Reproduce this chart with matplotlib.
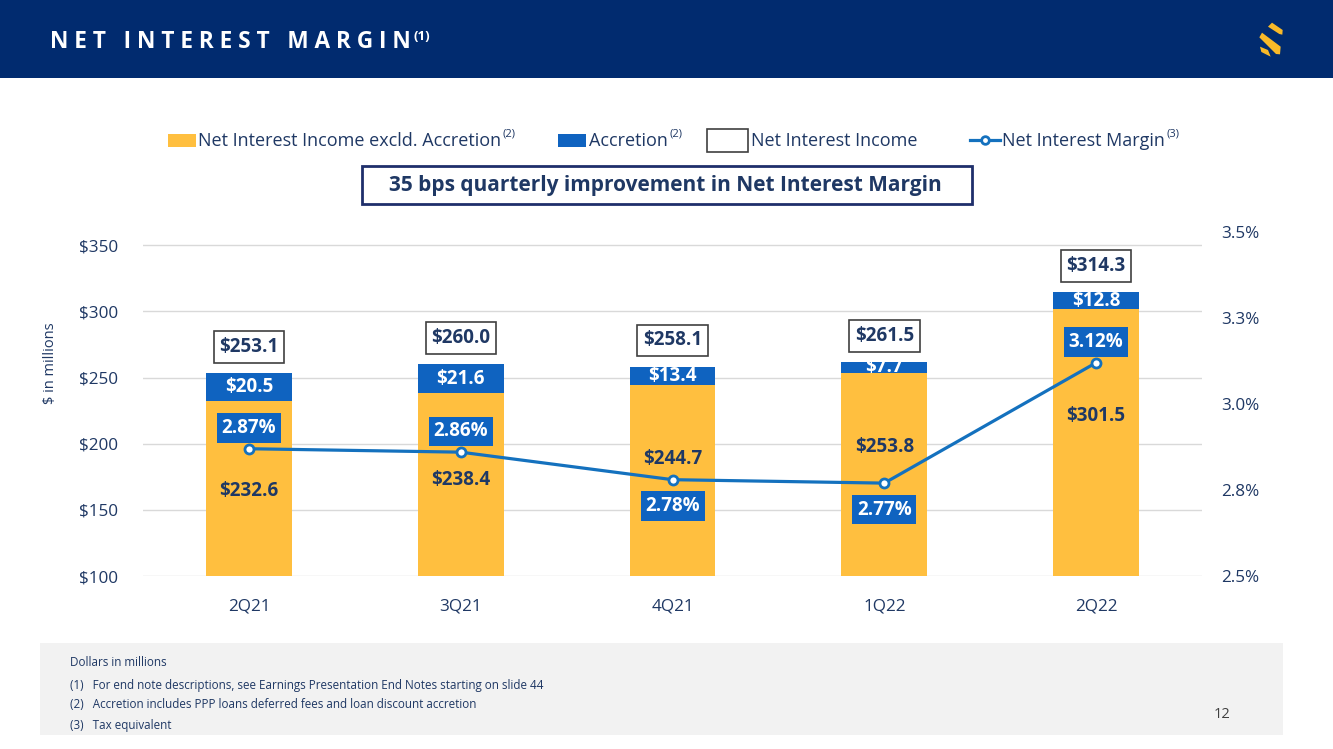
import matplotlib
matplotlib.use("Agg")
import matplotlib.pyplot as plt
from matplotlib.patches import Rectangle, Polygon
from matplotlib.lines import Line2D
from matplotlib.ticker import FuncFormatter, FixedLocator

plt.rcParams['font.family'] = ['Open Sans', 'DejaVu Sans']

# ---- data ----
quarters = ["2Q21", "3Q21", "4Q21", "1Q22", "2Q22"]
nii_excl = [232.6, 238.4, 244.7, 253.8, 301.5]
accretion = [20.5, 21.6, 13.4, 7.7, 12.8]
nii_total = [253.1, 260.0, 258.1, 261.5, 314.3]
nim = [2.87, 2.86, 2.78, 2.77, 3.12]
left_ticks = [100, 150, 200, 250, 300, 350]
right_ticks = [2.5, 2.75, 3.0, 3.25, 3.5]

# ---- layout helpers (not data) ----
excl_label_y = [164, 172.5, 188.5, 197.5, 221]
nim_label_side = [1, 1, -1, -1, 1]

W, H = 1333, 749
fig = plt.figure(figsize=(W / 100, H / 100), dpi=100)
fig.patch.set_facecolor("white")

def fx(x):
    return x / W

def fy(y):
    return 1 - y / H

NAVY = "#012B6F"
TXT = "#1F3864"
YEL = "#FFBF3F"
BLUE = "#0F63C0"
LINE = "#1471BE"
GOLD = "#F9B928"

# header band
fig.add_artist(Rectangle((0, fy(78)), 1, 78 / H, transform=fig.transFigure,
                         facecolor=NAVY, edgecolor="none", zorder=0))
title = "   ".join(" ".join(list(w)) for w in ["NET", "INTEREST", "MARGIN"])
t = fig.text(fx(50), fy(42), title, color="white", fontsize=16.3, fontweight="bold",
             va="center", ha="left")
fig.canvas.draw()
bb = t.get_window_extent(fig.canvas.get_renderer())
fig.text(bb.x1 / W + 0.002, fy(37), "(1)", color="white", fontsize=9.5, fontweight="bold",
         va="center", ha="left")

# logo
def zp(zx, zy):
    return (fx(1240 + zx / 3), fy(10 + zy / 3))

logo_parts = [
    [(84, 50), (96, 38), (128, 60), (127, 74), (118, 72)],
    [(58, 82), (66, 68), (122, 110), (120, 133), (108, 132)],
    [(60, 110), (64, 126), (92, 140), (84, 120)],
]
for part in logo_parts:
    fig.add_artist(Polygon([zp(*p) for p in part], closed=True, transform=fig.transFigure,
                           facecolor=GOLD, edgecolor="none"))

# footnote area
fig.add_artist(Rectangle((fx(40), fy(735)), (1283 - 40) / W, (735 - 643) / H,
                         transform=fig.transFigure, facecolor="#F2F2F2", edgecolor="none", zorder=0))
notes = ["Dollars in millions",
         "(1)   For end note descriptions, see Earnings Presentation End Notes starting on slide 44",
         "(2)   Accretion includes PPP loans deferred fees and loan discount accretion",
         "(3)   Tax equivalent"]
for n, yy in zip(notes, [663, 685, 705, 726]):
    fig.text(fx(70), fy(yy), n, fontsize=8.4, color=TXT, va="center", ha="left")
fig.text(fx(1222), fy(715), "12", fontsize=10.5, color="#404040", va="center", ha="center")

# ---- axes ----
ax = fig.add_axes([fx(143), fy(576), (1202 - 143) / W, (576 - 232) / H])
x = list(range(len(quarters)))
bw = 0.405
ax.bar(x, nii_excl, width=bw, color=YEL, zorder=2)
ax.bar(x, accretion, bottom=nii_excl, width=bw, color=BLUE, zorder=2)
ax.set_xlim(-0.5, 4.5)
ax.set_ylim(100, 360)
ax.yaxis.set_major_locator(FixedLocator(left_ticks))
ax.yaxis.set_major_formatter(FuncFormatter(lambda v, p: f"${v:.0f}"))
ax.set_xticks(x)
ax.set_xticklabels(quarters)
ax.grid(axis="y", color="#D9D9D9", lw=1, zorder=0)
ax.set_axisbelow(True)
for s in ax.spines.values():
    s.set_visible(False)
ax.tick_params(axis="y", length=0, pad=18, labelsize=12.3, labelcolor=TXT)
ax.tick_params(axis="x", length=0, pad=16, labelsize=12.3, labelcolor=TXT)
ax.set_ylabel("$ in millions", fontsize=10.5, color=TXT)
axw = (1202 - 143) / W
ax.yaxis.set_label_coords((fx(58) - fx(143)) / axw, 0.62)

ax2 = ax.twinx()
ax2.set_ylim(2.5, 3.5)
ax2.yaxis.set_major_locator(FixedLocator(right_ticks))
ax2.yaxis.set_major_formatter(FuncFormatter(lambda v, p: f"{v + 1e-9:.1f}%"))
for s in ax2.spines.values():
    s.set_visible(False)
ax2.tick_params(axis="y", length=0, pad=14, labelsize=12.3, labelcolor=TXT)
ax2.plot(x, nim, color=LINE, lw=2.3, marker="o", ms=6.5, mfc="white", mec=LINE, mew=2, zorder=5)

# labels
for i in x:
    ax.text(i, nii_excl[i] + accretion[i] / 2, f"${accretion[i]:.1f}", ha="center", va="center",
            fontsize=13.5, fontweight="bold", color="white", zorder=4)
    ax.text(i, excl_label_y[i], f"${nii_excl[i]:.1f}", ha="center", va="center",
            fontsize=13.5, fontweight="bold", color=TXT, zorder=4)
    ax.annotate(f"${nii_total[i]:.1f}", (i, nii_total[i]), xytext=(0, 19), textcoords="offset points",
                ha="center", va="center", fontsize=13.5, fontweight="bold", color=TXT, zorder=4,
                bbox=dict(boxstyle="square,pad=0.3", fc="white", ec="#404040", lw=1.2))
    off = 15 if nim_label_side[i] > 0 else -19
    ax2.annotate(f"{nim[i]:.2f}%", (i, nim[i]), xytext=(0, off), textcoords="offset points",
                 ha="center", va="center", fontsize=13.5, fontweight="bold", color="white", zorder=6,
                 bbox=dict(boxstyle="square,pad=0.25", fc=BLUE, ec="none"))

# ---- legend (manual) ----
LY = 141
fs_leg = 13

def leg_text(xpix, s, sup=None):
    tt = fig.text(fx(xpix), fy(LY), s, fontsize=fs_leg, color=TXT, va="center", ha="left")
    fig.canvas.draw()
    b = tt.get_window_extent(fig.canvas.get_renderer())
    if sup:
        fig.text(b.x1 / W + 0.001, fy(LY - 7), sup, fontsize=8, color=TXT, va="center", ha="left")

fig.add_artist(Rectangle((fx(168), fy(147)), 28 / W, 13 / H, transform=fig.transFigure,
                         facecolor=YEL, edgecolor="none"))
leg_text(198, "Net Interest Income excld. Accretion", "(2)")
fig.add_artist(Rectangle((fx(558), fy(147)), 28 / W, 13 / H, transform=fig.transFigure,
                         facecolor=BLUE, edgecolor="none"))
leg_text(589, "Accretion", "(2)")
fig.add_artist(Rectangle((fx(707), fy(152)), 41 / W, 23 / H, transform=fig.transFigure,
                         facecolor="white", edgecolor="#404040", lw=1.2))
leg_text(751, "Net Interest Income")
fig.add_artist(Line2D([fx(970), fx(1000)], [fy(140), fy(140)], transform=fig.transFigure,
                      color=LINE, lw=2.3))
fig.add_artist(Line2D([fx(985)], [fy(140)], transform=fig.transFigure, marker="o", ms=5.5,
                      mfc="white", mec=LINE, mew=2, color=LINE))
leg_text(1002, "Net Interest Margin", "(3)")

# callout box
fig.add_artist(Rectangle((fx(362), fy(204)), (972 - 362) / W, (204 - 166) / H, transform=fig.transFigure,
                         facecolor="white", edgecolor="#1F2F6B", lw=2))
fig.text(fx(665), fy(186), "35 bps quarterly improvement in Net Interest Margin", fontsize=15,
         fontweight="bold", color=TXT, ha="center", va="center")

fig.savefig("out.png", dpi=100)
